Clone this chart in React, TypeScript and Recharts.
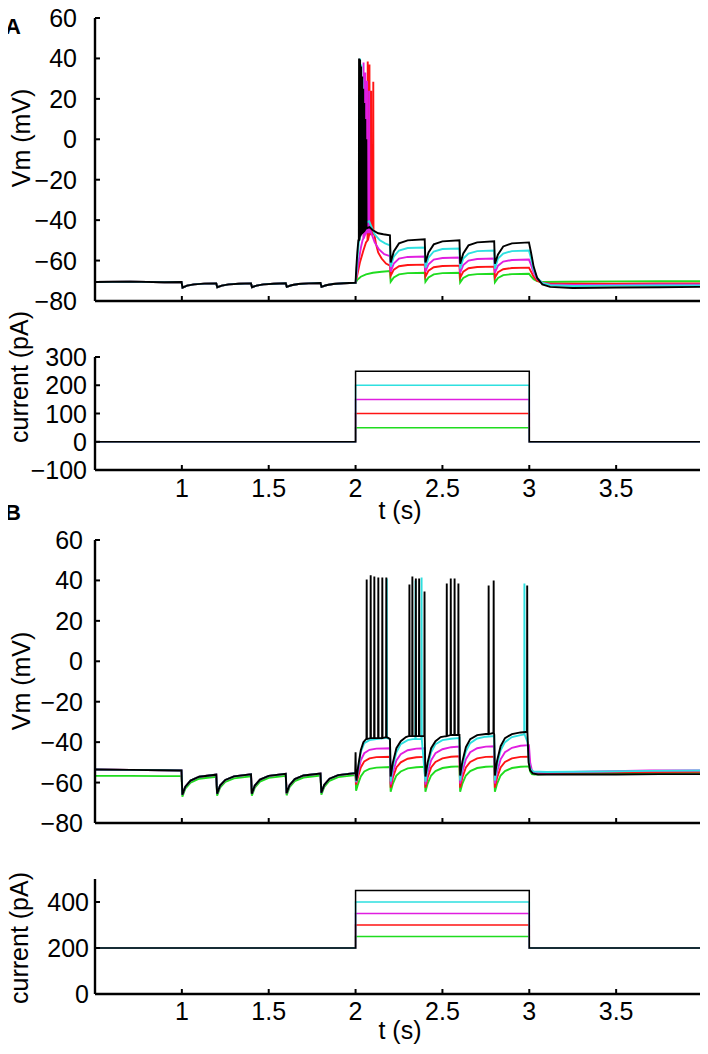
import { LineChart, Line, XAxis, YAxis } from "recharts";

type Pt = [number, number];
type Spike = [number, number, number]; // time, trough, peak

const FONT = '"Liberation Sans", Arial, Helvetica, sans-serif';
const GREEN = "#1fdc1f";
const RED = "#ff1414";
const MAGENTA = "#e01ee0";
const CYAN = "#2ee0e0";
const BLACK = "#000000";

const X_TICKS = [1, 1.5, 2, 2.5, 3, 3.5, 4];
const VM_TICKS = [-80, -60, -40, -20, 0, 20, 40, 60];
const CUR_A_TICKS = [-100, 0, 100, 200, 300];
const CUR_B_TICKS = [0, 200, 400];

// ---------- panel A : Vm (mV) ----------
const preA: Pt[] = [
  [0.5, -70.6], [0.7, -70.4], [0.9, -70.7], [0.998, -70.6], [1.004, -73.4], [1.03, -72.4], [1.07, -71.8], [1.13, -71.4], [1.198, -71.3],
  [1.204, -73.2], [1.23, -72.4], [1.27, -71.8], [1.33, -71.5], [1.398, -71.3],
  [1.404, -73.2], [1.43, -72.4], [1.47, -71.8], [1.53, -71.5], [1.598, -71.2],
  [1.604, -73], [1.63, -72.2], [1.67, -71.6], [1.73, -71.3], [1.798, -71.1],
  [1.804, -73], [1.83, -72.2], [1.87, -71.6], [1.93, -71.2], [1.998, -71],
];

const greenA: Pt[] = [
  [2.0, -71], [2.01, -69.5], [2.03, -68], [2.06, -66.8], [2.1, -66], [2.15, -65.5], [2.198, -65.2],
  [2.202, -70.5], [2.22, -68.3], [2.25, -66.8], [2.3, -66.2], [2.398, -66],
  [2.402, -70.5], [2.42, -68.3], [2.45, -66.8], [2.5, -66.2], [2.598, -66],
  [2.602, -70.8], [2.62, -68.6], [2.65, -67.2], [2.7, -66.7], [2.798, -66.5],
  [2.802, -70.8], [2.82, -68.6], [2.85, -67.2], [2.9, -66.7], [2.998, -66.5],
  [3.01, -67.8], [3.025, -69.2], [3.045, -70.2], [3.075, -70.6], [3.2, -70.5], [3.5, -70.3], [3.75, -70.2], [4.0, -70.2],
];

const redA: Pt[] = [
  [2.0, -71], [2.01, -67], [2.025, -61], [2.045, -55], [2.06, -51],
  [2.108, -47], [2.118, -52], [2.13, -56], [2.15, -59], [2.175, -61.5], [2.198, -62.5],
  [2.202, -67.5], [2.22, -64.5], [2.25, -62.8], [2.3, -62.2], [2.398, -62],
  [2.402, -68], [2.42, -65], [2.45, -63.3], [2.5, -62.7], [2.598, -62.5],
  [2.602, -68.5], [2.62, -65.5], [2.65, -63.8], [2.7, -63.2], [2.798, -63],
  [2.802, -68.5], [2.82, -65.8], [2.85, -64.3], [2.9, -63.7], [2.998, -63.5],
  [3.01, -65.5], [3.025, -68], [3.045, -70], [3.075, -71], [3.12, -71.4], [3.25, -71.5], [3.5, -71.4], [3.75, -71.3], [4.0, -71.3],
];
const redASpikes: Spike[] = [[2.07, -50, 38.5], [2.08, -47, 37], [2.09, -47, 24], [2.102, -47, 28.5]];

const magentaA: Pt[] = [
  [2.0, -71], [2.008, -66], [2.02, -59], [2.032, -53], [2.04, -50],
  [2.085, -45], [2.095, -47.5], [2.11, -51], [2.135, -54.5], [2.165, -56.8], [2.198, -57.8],
  [2.202, -65.5], [2.22, -61.5], [2.25, -59], [2.3, -58.2], [2.398, -58],
  [2.402, -65.5], [2.42, -61.8], [2.45, -59.5], [2.5, -58.7], [2.598, -58.5],
  [2.602, -66], [2.62, -62.2], [2.65, -60], [2.7, -59.2], [2.798, -59],
  [2.802, -66], [2.82, -62.5], [2.85, -60.5], [2.9, -59.7], [2.998, -59.5],
  [3.01, -62], [3.025, -66], [3.045, -69], [3.075, -71], [3.12, -71.8], [3.25, -72.1], [3.5, -72], [3.75, -71.8], [4.0, -71.8],
];
const magentaASpikes: Spike[] = [[2.046, -49, 38], [2.056, -47, 33], [2.066, -46, 29], [2.078, -46, 24]];

const cyanA: Pt[] = [
  [2.0, -71], [2.005, -66], [2.012, -58], [2.018, -52],
  [2.05, -43], [2.065, -41], [2.078, -40.5], [2.09, -43], [2.11, -47], [2.14, -50], [2.17, -51.5], [2.198, -52.5],
  [2.202, -63], [2.22, -58], [2.25, -55], [2.3, -53.8], [2.398, -53.5],
  [2.402, -63.5], [2.42, -58.5], [2.45, -55.5], [2.5, -54.3], [2.598, -54],
  [2.602, -64], [2.62, -59], [2.65, -56.5], [2.7, -55.3], [2.798, -55],
  [2.802, -64], [2.82, -59], [2.85, -56.5], [2.9, -55.3], [2.998, -55],
  [3.01, -59], [3.025, -64.5], [3.045, -68.5], [3.075, -71], [3.12, -72.2], [3.25, -72.6], [3.5, -72.4], [3.75, -72.3], [4.0, -72.3],
];
const cyanASpikes: Spike[] = [[2.021, -50, 22], [2.026, -48, 40], [2.033, -46, 37], [2.04, -45, 30]];

const blackA: Pt[] = [
  [2.0, -71], [2.004, -64], [2.01, -56], [2.016, -50],
  [2.065, -44], [2.08, -43.5], [2.1, -45], [2.13, -46.5], [2.16, -47], [2.198, -47.5],
  [2.202, -61], [2.22, -55.5], [2.25, -51.5], [2.3, -50], [2.398, -49.5],
  [2.402, -61], [2.42, -56], [2.45, -52], [2.5, -50.5], [2.598, -50],
  [2.602, -61.5], [2.62, -56.5], [2.65, -52.5], [2.7, -51], [2.798, -50.5],
  [2.802, -61.5], [2.82, -57], [2.85, -53], [2.9, -51.5], [2.998, -51],
  [3.01, -56], [3.025, -63], [3.045, -68.5], [3.075, -71.8], [3.12, -73], [3.25, -73.6], [3.5, -73.3], [3.75, -73.2], [4.0, -73],
];
const blackASpikes: Spike[] = [
  [2.02, -50, 40], [2.026, -48, 39.5], [2.032, -47, 36], [2.038, -46, 31],
  [2.044, -45.5, 25], [2.05, -45, 18], [2.056, -44.5, 10], [2.062, -44, 0],
];

// ---------- panel B : Vm (mV) ----------
const preB: Pt[] = [
  [0.5, -53.5], [0.7, -53.7], [0.9, -53.9], [0.998, -54], [1.003, -66], [1.02, -62], [1.05, -59], [1.1, -57.1], [1.198, -56.1],
  [1.203, -65.5], [1.22, -61.5], [1.25, -58.7], [1.3, -56.9], [1.398, -55.9],
  [1.403, -65.5], [1.42, -61.5], [1.45, -58.5], [1.5, -56.7], [1.598, -55.7],
  [1.603, -65.3], [1.62, -61.3], [1.65, -58.3], [1.7, -56.5], [1.798, -55.5],
  [1.803, -65], [1.82, -61.1], [1.85, -58.1], [1.9, -56.3], [1.998, -55.3],
];
const preBGreen: Pt[] = [
  [0.5, -56.7], [0.7, -56.7], [0.9, -56.8], [0.998, -56.8], [1.003, -67], [1.02, -63], [1.05, -60], [1.1, -58.1], [1.198, -57.1],
  [1.203, -66.5], [1.22, -62.5], [1.25, -59.7], [1.3, -57.9], [1.398, -56.9],
  [1.403, -66.5], [1.42, -62.5], [1.45, -59.5], [1.5, -57.7], [1.598, -56.7],
  [1.603, -66.3], [1.62, -62.3], [1.65, -59.3], [1.7, -57.5], [1.798, -56.5],
  [1.803, -66], [1.82, -62.1], [1.85, -59.1], [1.9, -57.3], [1.998, -56.3],
];

const greenB: Pt[] = [
  [2.0, -56.3], [2.003, -64], [2.015, -60.5], [2.03, -57], [2.05, -54.5], [2.08, -53.2], [2.12, -52.6], [2.198, -52.3],
  [2.202, -64.5], [2.215, -60.5], [2.235, -56.5], [2.26, -54.5], [2.3, -53], [2.35, -52.4], [2.398, -52.2],
  [2.402, -64.5], [2.415, -60.5], [2.435, -56.5], [2.46, -54.3], [2.5, -52.8], [2.55, -52.2], [2.598, -52],
  [2.602, -64.5], [2.615, -60.5], [2.635, -56.5], [2.66, -54.3], [2.7, -52.8], [2.75, -52.2], [2.798, -52],
  [2.802, -64.5], [2.815, -60.5], [2.835, -56.5], [2.86, -54.3], [2.9, -52.8], [2.95, -52.2], [2.998, -52],
  [3.005, -54.5], [3.015, -55.8], [3.03, -56], [3.1, -55.8], [3.4, -55.5], [3.7, -55.2], [4.0, -55],
];

const redB: Pt[] = [
  [2.0, -55.3], [2.003, -61], [2.015, -57], [2.03, -52.5], [2.05, -49.5], [2.08, -48], [2.12, -47.4], [2.198, -47.2],
  [2.202, -62.5], [2.215, -57.5], [2.235, -52.5], [2.26, -50], [2.3, -48.2], [2.35, -47.5], [2.398, -47.3],
  [2.402, -62.5], [2.415, -57.5], [2.435, -52.5], [2.46, -49.8], [2.5, -48], [2.55, -47.2], [2.598, -47],
  [2.602, -62.5], [2.615, -57.5], [2.635, -52.5], [2.66, -49.8], [2.7, -48], [2.75, -47.3], [2.798, -47.2],
  [2.802, -62.5], [2.815, -57.5], [2.835, -52.5], [2.86, -49.8], [2.9, -48], [2.95, -47.3], [2.998, -47.2],
  [3.005, -52], [3.015, -54.5], [3.03, -55.2], [3.1, -55.3], [3.4, -55], [3.7, -54.8], [4.0, -54.7],
];

const magentaB: Pt[] = [
  [2.0, -55.3], [2.003, -60], [2.015, -55], [2.03, -49], [2.05, -45.5], [2.08, -43.8], [2.12, -43.2], [2.198, -43],
  [2.202, -61], [2.215, -55], [2.235, -49], [2.26, -46], [2.3, -44], [2.35, -43.2], [2.398, -43],
  [2.402, -61], [2.415, -55], [2.435, -49], [2.46, -45.5], [2.5, -43.5], [2.55, -42.5], [2.598, -42.2],
  [2.602, -60.5], [2.615, -54.5], [2.635, -48.5], [2.66, -45], [2.7, -43], [2.75, -42.2], [2.798, -42],
  [2.802, -60.5], [2.815, -54.5], [2.835, -48.5], [2.86, -45], [2.9, -42.8], [2.95, -41.8], [2.998, -41.5],
  [3.005, -50], [3.015, -54], [3.03, -55], [3.1, -55], [3.4, -54.5], [3.7, -54], [4.0, -54],
];

const cyanB: Pt[] = [
  [2.0, -55.3], [2.003, -59.5], [2.015, -53], [2.03, -45], [2.05, -40.5], [2.08, -39], [2.12, -38.5], [2.17, -38], [2.198, -38.5],
  [2.202, -59.5], [2.215, -52], [2.235, -45], [2.26, -41], [2.3, -39], [2.33, -38.5],
  [2.402, -59.5], [2.415, -52], [2.435, -45], [2.46, -41], [2.5, -39], [2.55, -38.3], [2.598, -38],
  [2.602, -59], [2.615, -51.5], [2.635, -44.5], [2.66, -40.5], [2.7, -38.2], [2.75, -37.3], [2.798, -37],
  [2.802, -59], [2.815, -51], [2.835, -44], [2.86, -40], [2.9, -37.5], [2.95, -36.5], [2.965, -36.3],
  [2.99, -40], [2.998, -50], [3.005, -53], [3.02, -54.5], [3.1, -54.8], [3.4, -54.5], [3.7, -54.2], [4.0, -54],
];
const cyanBSpikes: Spike[] = [[2.18, -38, 41], [2.345, -38.5, 40], [2.38, -38.5, 41.5], [2.972, -36.3, 38.5]];

const blackB: Pt[] = [
  [2.0, -45], [2.002, -56], [2.005, -59], [2.015, -52], [2.03, -44], [2.045, -40], [2.06, -38.5],
  [2.19, -38], [2.198, -38.5],
  [2.202, -57], [2.215, -50], [2.235, -43], [2.26, -39.5], [2.29, -37.5], [2.305, -37],
  [2.402, -57], [2.415, -50], [2.435, -43], [2.46, -39.5], [2.49, -37.5], [2.52, -37],
  [2.598, -36.5],
  [2.602, -56.5], [2.615, -49.5], [2.635, -42.5], [2.66, -38.5], [2.7, -36.5], [2.75, -36],
  [2.798, -36],
  [2.802, -56.5], [2.815, -49], [2.835, -42], [2.86, -38], [2.9, -36], [2.95, -35.2], [2.98, -35],
  [2.996, -50], [3.005, -54], [3.02, -55.5], [3.05, -56], [3.2, -56], [3.5, -56], [3.75, -55.8], [4.0, -55.8],
];
const blackBSpikes: Spike[] = [
  [2.064, -38.5, 40.5], [2.087, -38, 42.5], [2.108, -38, 42], [2.131, -38, 41.5], [2.154, -38, 41.5], [2.177, -37.5, 41.5],
  [2.31, -37, 38], [2.327, -37, 42], [2.347, -37, 41], [2.366, -37, 41], [2.397, -37, 34.5],
  [2.525, -37, 38.5], [2.548, -36.5, 41], [2.57, -36.5, 41], [2.592, -36.5, 38.5],
  [2.766, -36, 37.5], [2.795, -35.5, 40],
  [2.988, -35, 37.5],
];

// ---------- injected current (pA) ----------
const stepT = [0.5, 2, 2, 3, 3, 4];
const curAGreen = [0, 0, 50, 50, 0, 0];
const curARed = [0, 0, 100, 100, 0, 0];
const curAMagenta = [0, 0, 150, 150, 0, 0];
const curACyan = [0, 0, 200, 200, 0, 0];
const curABlack = [0, 0, 250, 250, 0, 0];
const curBGreen = [200, 200, 250, 250, 200, 200];
const curBRed = [200, 200, 300, 300, 200, 200];
const curBMagenta = [200, 200, 350, 350, 200, 200];
const curBCyan = [200, 200, 400, 400, 200, 200];
const curBBlack = [200, 200, 450, 450, 200, 200];

type Row = { t: number; v: number };
type Series = { key: string; color: string; width: number; data: Row[] };

function trace(base: Pt[], spikes: Spike[] = []): Row[] {
  const pts: Pt[] = [...base];
  spikes.forEach(([t, lo, hi]) => {
    pts.push([t - 0.0012, lo], [t, hi], [t + 0.0012, lo]);
  });
  return pts.sort((a, b) => a[0] - b[0]).map(([t, v]) => ({ t, v }));
}

function steps(vals: number[]): Row[] {
  return stepT.map((t, i) => ({ t, v: vals[i] }));
}

const fmt = (v: number) => (v < 0 ? "\u2212" + Math.abs(v) : String(v));

function XTick({ x, y, payload, show, dy }: any) {
  const v = payload.value;
  return (
    <g>
      <line x1={x} x2={x} y1={y} y2={y - 5} stroke="#000" strokeWidth={2} />
      {show && v < 4 && (
        <text x={x} y={y + dy} textAnchor="middle" dominantBaseline="central" fontFamily={FONT} fontSize={25} fill="#000">
          {v}
        </text>
      )}
    </g>
  );
}

function YTick({ x, y, payload, gap }: any) {
  return (
    <g>
      <line x1={x} x2={x + 5} y1={y} y2={y} stroke="#000" strokeWidth={2} />
      <text x={x - gap} y={y} textAnchor="end" dominantBaseline="central" fontFamily={FONT} fontSize={25} fill="#000">
        {fmt(payload.value)}
      </text>
    </g>
  );
}

function Title({ px, py, rot, text, bold, size }: any) {
  return (
    <text
      x={px}
      y={py}
      transform={rot ? `rotate(-90 ${px} ${py})` : undefined}
      textAnchor="middle"
      dominantBaseline="central"
      fontFamily={FONT}
      fontSize={size ?? 25}
      fontWeight={bold ? 700 : 400}
      fill="#000"
    >
      {text}
    </text>
  );
}

type PanelProps = {
  top: number;
  padTop: number;
  plotH: number;
  padBottom: number;
  yDomain: [number, number];
  yTicks: number[];
  gap: number;
  yLabel: string;
  yLabelPos: [number, number];
  letter?: string;
  letterY?: number;
  showX: boolean;
  xDy?: number;
  tDy?: number;
  series: Series[];
};

function Panel(p: PanelProps) {
  const h = p.padTop + p.plotH + p.padBottom;
  const axisLine = { stroke: "#000", strokeWidth: 2.4 };
  return (
    <div style={{ position: "absolute", left: 0, top: p.top - p.padTop, width: 708, height: h }}>
      <LineChart width={708} height={h} margin={{ top: p.padTop, right: 5, bottom: 0, left: 0 }}>
        <XAxis
          dataKey="t"
          type="number"
          domain={[0.5, 4]}
          ticks={X_TICKS}
          interval={0}
          allowDataOverflow
          height={p.padBottom}
          axisLine={axisLine}
          tickLine={false}
          tickSize={0}
          tickMargin={0}
          tick={(tp: any) => <XTick {...tp} show={p.showX} dy={p.xDy ?? 0} />}
          label={p.showX ? <Title px={400} py={p.padTop + p.plotH + (p.tDy ?? 0)} text="t (s)" /> : undefined}
        />
        <YAxis
          type="number"
          domain={p.yDomain}
          ticks={p.yTicks}
          interval={0}
          allowDataOverflow
          width={95}
          axisLine={axisLine}
          tickLine={false}
          tickSize={0}
          tickMargin={0}
          tick={(tp: any) => <YTick {...tp} gap={p.gap} />}
          label={
            <g>
              <Title px={p.yLabelPos[0]} py={p.yLabelPos[1]} rot text={p.yLabel} />
              {p.letter && <Title px={13} py={p.letterY} text={p.letter} bold size={22} />}
            </g>
          }
        />
        {p.series.map((s) => (
          <Line
            key={s.key}
            data={s.data}
            dataKey="v"
            type="linear"
            stroke={s.color}
            strokeWidth={s.width}
            dot={false}
            activeDot={false}
            isAnimationActive={false}
          />
        ))}
      </LineChart>
    </div>
  );
}

const vmASeries: Series[] = [
  { key: "g", color: GREEN, width: 1.9, data: trace([...preA, ...greenA]) },
  { key: "r", color: RED, width: 1.9, data: trace([...preA, ...redA], redASpikes) },
  { key: "m", color: MAGENTA, width: 1.9, data: trace([...preA, ...magentaA], magentaASpikes) },
  { key: "c", color: CYAN, width: 1.9, data: trace([...preA, ...cyanA], cyanASpikes) },
  { key: "k", color: BLACK, width: 1.9, data: trace([...preA, ...blackA], blackASpikes) },
];

const curASeries: Series[] = [
  { key: "g", color: GREEN, width: 1.5, data: steps(curAGreen) },
  { key: "r", color: RED, width: 1.5, data: steps(curARed) },
  { key: "m", color: MAGENTA, width: 1.5, data: steps(curAMagenta) },
  { key: "c", color: CYAN, width: 1.5, data: steps(curACyan) },
  { key: "k", color: BLACK, width: 1.5, data: steps(curABlack) },
];

const vmBSeries: Series[] = [
  { key: "g", color: GREEN, width: 1.9, data: trace([...preBGreen, ...greenB]) },
  { key: "r", color: RED, width: 1.9, data: trace([...preB, ...redB]) },
  { key: "m", color: MAGENTA, width: 1.9, data: trace([...preB, ...magentaB]) },
  { key: "c", color: CYAN, width: 1.9, data: trace([...preB, ...cyanB], cyanBSpikes) },
  { key: "k", color: BLACK, width: 1.9, data: trace([...preB, ...blackB], blackBSpikes) },
];

const curBSeries: Series[] = [
  { key: "g", color: GREEN, width: 1.5, data: steps(curBGreen) },
  { key: "r", color: RED, width: 1.5, data: steps(curBRed) },
  { key: "m", color: MAGENTA, width: 1.5, data: steps(curBMagenta) },
  { key: "c", color: CYAN, width: 1.5, data: steps(curBCyan) },
  { key: "k", color: BLACK, width: 1.5, data: steps(curBBlack) },
];

export default function App() {
  return (
    <div style={{ position: "relative", width: 708, height: 1054, margin: -8, background: "#fff" }}>
      <Panel
        top={18}
        padTop={18}
        plotH={283}
        padBottom={20}
        yDomain={[-80, 60]}
        yTicks={VM_TICKS}
        gap={18}
        yLabel="Vm (mV)"
        yLabelPos={[21, 138]}
        letter="A"
        letterY={26}
        showX={false}
        series={vmASeries}
      />
      <Panel
        top={357}
        padTop={57}
        plotH={113}
        padBottom={60}
        yDomain={[-100, 300]}
        yTicks={CUR_A_TICKS}
        gap={8}
        yLabel="current (pA)"
        yLabelPos={[19, 77]}
        showX
        xDy={18}
        tDy={40}
        series={curASeries}
      />
      <Panel
        top={540}
        padTop={40}
        plotH={283}
        padBottom={20}
        yDomain={[-80, 60]}
        yTicks={VM_TICKS}
        gap={12}
        yLabel="Vm (mV)"
        yLabelPos={[21, 181]}
        letter="B"
        letterY={12}
        showX={false}
        series={vmBSeries}
      />
      <Panel
        top={879}
        padTop={30}
        plotH={115}
        padBottom={55}
        yDomain={[0, 500]}
        yTicks={CUR_B_TICKS}
        gap={6}
        yLabel="current (pA)"
        yLabelPos={[19, 89]}
        showX
        xDy={17}
        tDy={36}
        series={curBSeries}
      />
    </div>
  );
}
